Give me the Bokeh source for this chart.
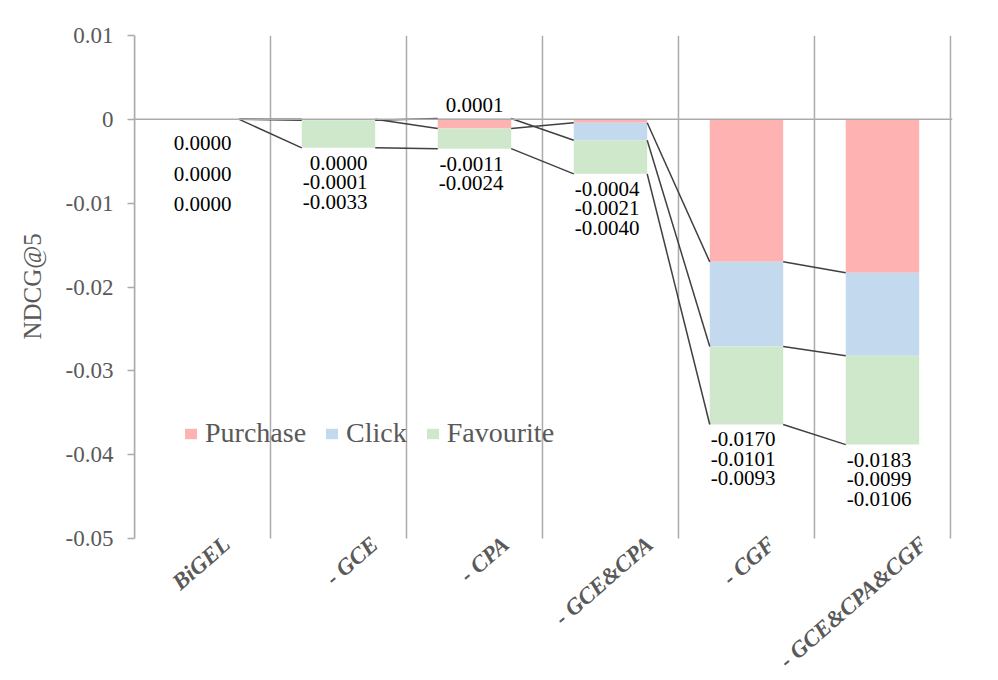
from math import radians
from bokeh.plotting import figure
from bokeh.models import ColumnDataSource, FixedTicker, Span, Title
from bokeh.core.properties import value
from bokeh.embed import file_html
from bokeh.resources import INLINE

# ---------------- data ----------------
categories = ["BiGEL", "- GCE", "- CPA", "- GCE&CPA", "- CGF", "- GCE&CPA&CGF"]
series_names = ["Purchase", "Click", "Favourite"]
purchase = [0.0000, 0.0000, -0.0011, -0.0004, -0.0170, -0.0183]
click = [0.0000, -0.0001, 0.0001, -0.0021, -0.0101, -0.0099]
favourite = [0.0000, -0.0033, -0.0024, -0.0040, -0.0093, -0.0106]
y_ticks = [-0.05, -0.04, -0.03, -0.02, -0.01, 0.0, 0.01]
y_tick_labels = ["-0.05", "-0.04", "-0.03", "-0.02", "-0.01", "0", "0.01"]

# ---------------- style ----------------
colors = ["#FFB2B2", "#C2D9EE", "#CFE8CC"]
FONT = "Liberation Serif"
GRAY_TXT = "#595959"
GRAY_LINE = "#ABABAB"
BAR_W = 0.54
label_gap = {0: (24, 30.5)}      # category index -> (first line gap px, line spacing px)
default_gap = (15, 19.5)
POS_LABEL_OFF = -13
cat_label_dx = [16, 28, 23, 31, 17, 33]   # px shift of rotated category labels
Y_MIN, Y_MAX = y_ticks[0], y_ticks[-1]

# layout (pixels): value axis spans PLOT_TOP..AXIS_BOTTOM, frame continues below
# to leave room for the rotated category names
FIG_W, FIG_H = 982, 680
PLOT_TOP, AXIS_BOTTOM, FRAME_BOTTOM = 35, 538, 680
Y_LOW = Y_MIN - (Y_MAX - Y_MIN) * (FRAME_BOTTOM - AXIS_BOTTOM) / (AXIS_BOTTOM - PLOT_TOP)
TITLE_BOTTOM = 339   # where the rotated y title starts (page px)

n = len(categories)
xs = [i + 0.5 for i in range(n)]

p = figure(width=FIG_W, height=FIG_H, x_range=(0, n + 0.015), y_range=(Y_LOW, Y_MAX),
           output_backend="svg", toolbar_location=None,
           min_border_left=131, min_border_right=30, min_border_top=PLOT_TOP,
           min_border_bottom=FIG_H - FRAME_BOTTOM)
p.outline_line_color = None
p.background_fill_color = "white"
p.grid.grid_line_color = None

# vertical gridlines between categories (limited to the value-axis span)
bounds = list(range(n + 1))
p.segment(x0=bounds, y0=[Y_MIN] * len(bounds), x1=bounds, y1=[Y_MAX] * len(bounds),
          line_color=GRAY_LINE, line_width=1.5)

# stacking (positives up, negatives down, like Excel)
pos_base = [0.0] * n
neg_base = [0.0] * n
ends_all = []
for name, vals, col in zip(series_names, [purchase, click, favourite], colors):
    bottoms, tops, ends = [], [], []
    for i, v in enumerate(vals):
        if v > 0:
            b = pos_base[i]; t = b + v; pos_base[i] = t
        else:
            b = neg_base[i]; t = b + v; neg_base[i] = t
        bottoms.append(b); tops.append(t); ends.append(t)
    ends_all.append(ends)
    src = ColumnDataSource(dict(x=xs, bottom=bottoms, top=tops))
    p.vbar(x="x", bottom="bottom", top="top", width=BAR_W, source=src,
           fill_color=col, line_color=None, legend_label=name)

# zero line
p.add_layout(Span(location=0, dimension="width", line_color=GRAY_LINE, line_width=1.5))

# series lines
sx0, sy0, sx1, sy1 = [], [], [], []
for ends in ends_all:
    for i in range(n - 1):
        sx0.append(xs[i] + BAR_W / 2); sy0.append(ends[i])
        sx1.append(xs[i + 1] - BAR_W / 2); sy1.append(ends[i + 1])
p.segment(x0=sx0, y0=sy0, x1=sx1, y1=sy1, line_color="#404040", line_width=1.5)

# data labels
lx, ly, lt, lyo = [], [], [], []
for i in range(n):
    vals = [purchase[i], click[i], favourite[i]]
    gap, step = label_gap.get(i, default_gap)
    k = 0
    for v in vals:
        txt = "%.4f" % v
        if v > 0:
            lx.append(xs[i]); ly.append(pos_base[i]); lt.append(txt); lyo.append(POS_LABEL_OFF)
        else:
            lx.append(xs[i]); ly.append(neg_base[i]); lt.append(txt); lyo.append(gap + k * step)
            k += 1
lsrc = ColumnDataSource(dict(x=lx, y=ly, text=lt, yo=lyo))
p.text(x="x", y="y", text="text", source=lsrc, x_offset=29, y_offset="yo",
       text_align="right", text_baseline="alphabetic",
       text_font=value(FONT), text_font_size="21px", text_color="black")

# category names (rotated) under the value-axis bottom
csrc = ColumnDataSource(dict(x=xs, y=[Y_MIN] * n, text=categories, dx=cat_label_dx))
p.text(x="x", y="y", text="text", source=csrc, x_offset="dx", y_offset=-7,
       angle=radians(41), text_align="right", text_baseline="top",
       text_font=value(FONT), text_font_style="bold italic",
       text_font_size="23px", text_color=GRAY_TXT)

# y axis
p.yaxis.ticker = FixedTicker(ticks=y_ticks)
p.yaxis.bounds = (Y_MIN, Y_MAX)
p.yaxis.major_label_overrides = {t: l for t, l in zip(y_ticks, y_tick_labels)}
p.yaxis.major_label_text_font = FONT
p.yaxis.major_label_text_font_size = "23px"
p.yaxis.major_label_text_color = GRAY_TXT
p.yaxis.axis_line_color = GRAY_LINE
p.yaxis.axis_line_width = 1.5
p.yaxis.major_tick_line_color = GRAY_LINE
p.yaxis.major_tick_line_width = 1.5
p.yaxis.major_tick_out = 7
p.yaxis.major_tick_in = 0
p.yaxis.minor_tick_line_color = None
p.yaxis.major_label_standoff = 14
p.xaxis.visible = False

# y axis title
p.add_layout(Title(text="NDCG@5", align="left", offset=FRAME_BOTTOM - TITLE_BOTTOM,
                   text_font=FONT, text_font_style="normal", text_font_size="25px",
                   text_color=GRAY_TXT, standoff=33), "left")

# legend
p.legend.orientation = "horizontal"
p.legend.location = (49, 89 + FRAME_BOTTOM - AXIS_BOTTOM)
p.legend.border_line_color = None
p.legend.background_fill_alpha = 0
p.legend.padding = 0
p.legend.margin = 0
p.legend.spacing = 18
p.legend.glyph_width = 15
p.legend.glyph_height = 13
p.legend.label_standoff = 7
p.legend.label_text_font = FONT
p.legend.label_text_font_size = "28px"
p.legend.label_text_color = GRAY_TXT

open("out.html", "w").write(file_html(p, INLINE))
